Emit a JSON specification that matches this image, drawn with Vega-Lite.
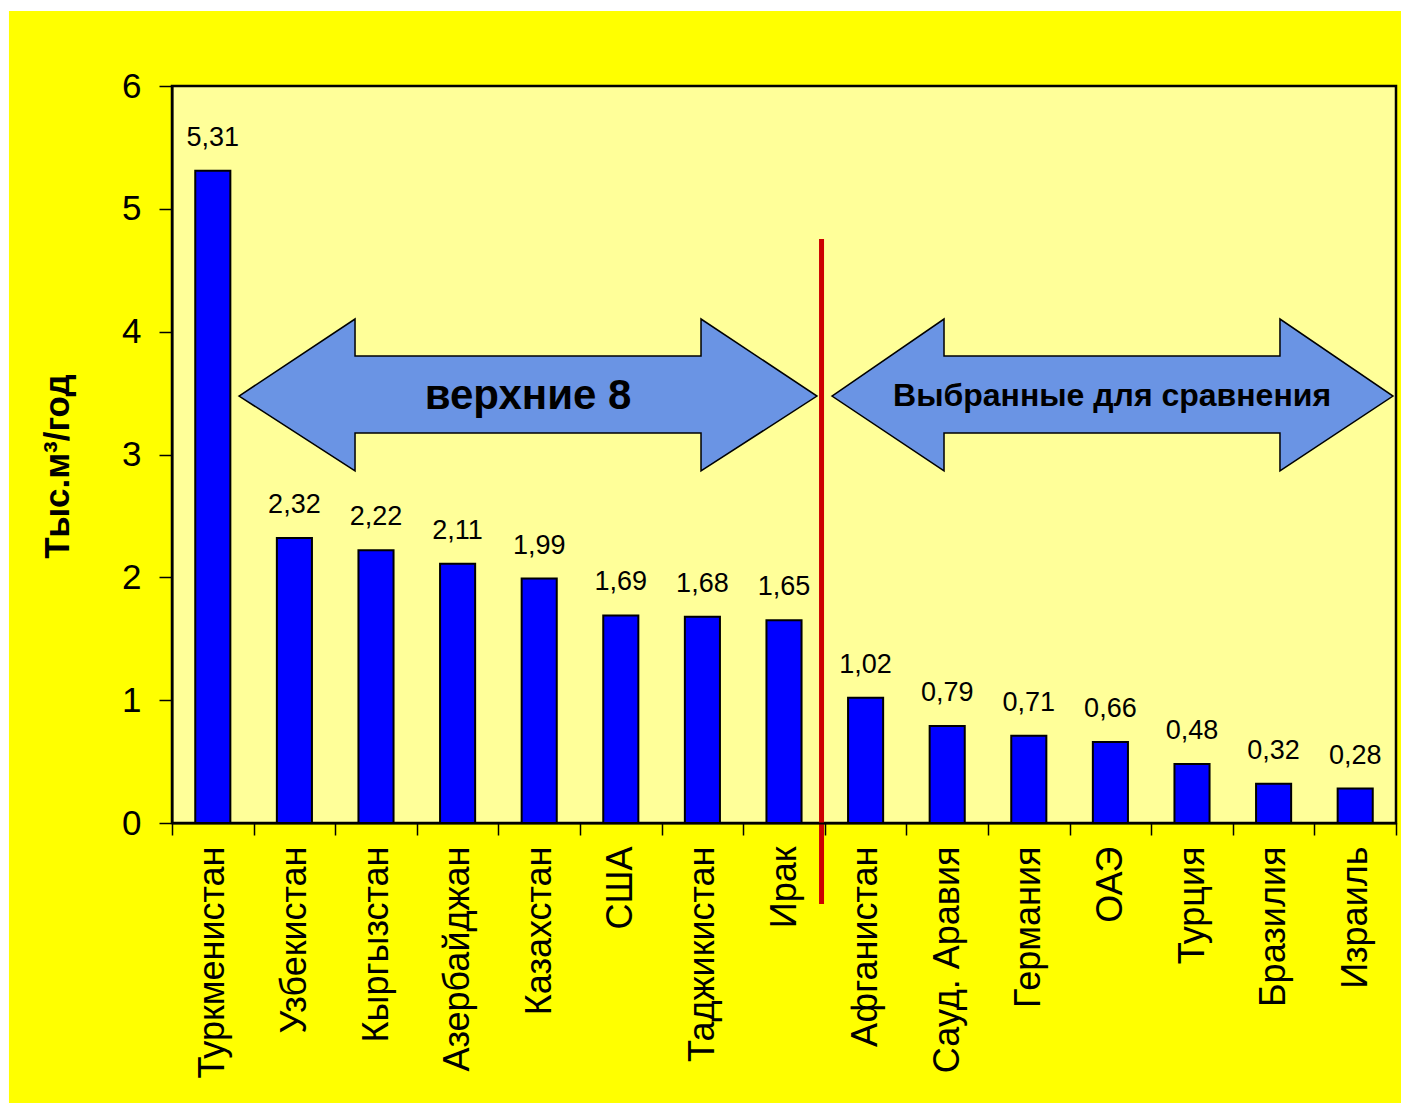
{
  "$schema": "https://vega.github.io/schema/vega-lite/v6.json",
  "width": 1224,
  "height": 737,
  "padding": {"left": 8, "top": 10, "right": 0, "bottom": 0},
  "background": "white",
  "config": {
    "view": {"stroke": null},
    "font": "Liberation Sans"
  },
  "datasets": {
    "bars": [
      {"country": "Туркменистан", "value": 5.31},
      {"country": "Узбекистан", "value": 2.32},
      {"country": "Кыргызстан", "value": 2.22},
      {"country": "Азербайджан", "value": 2.11},
      {"country": "Казахстан", "value": 1.99},
      {"country": "США", "value": 1.69},
      {"country": "Таджикистан", "value": 1.68},
      {"country": "Ирак", "value": 1.65},
      {"country": "Афганистан", "value": 1.02},
      {"country": "Сауд. Аравия", "value": 0.79},
      {"country": "Германия", "value": 0.71},
      {"country": "ОАЭ", "value": 0.66},
      {"country": "Турция", "value": 0.48},
      {"country": "Бразилия", "value": 0.32},
      {"country": "Израиль", "value": 0.28}
    ],
    "frame": [{"x0": -1.998, "x1": 15.074, "y0": -2.288, "y1": 6.611}],
    "plot": [{"x0": 0, "x1": 15, "y0": 0, "y1": 6}],
    "arrows": [
      {"arrow": "a", "x": 0.821, "top": 3.476, "bot": 3.476},
      {"arrow": "a", "x": 2.243, "top": 4.103, "bot": 2.866},
      {"arrow": "a", "x": 2.243, "top": 3.802, "bot": 3.175},
      {"arrow": "a", "x": 6.483, "top": 3.802, "bot": 3.175},
      {"arrow": "a", "x": 6.483, "top": 4.103, "bot": 2.866},
      {"arrow": "a", "x": 7.904, "top": 3.476, "bot": 3.476},
      {"arrow": "b", "x": 8.088, "top": 3.476, "bot": 3.476},
      {"arrow": "b", "x": 9.461, "top": 4.103, "bot": 2.866},
      {"arrow": "b", "x": 9.461, "top": 3.802, "bot": 3.175},
      {"arrow": "b", "x": 13.578, "top": 3.802, "bot": 3.175},
      {"arrow": "b", "x": 13.578, "top": 4.103, "bot": 2.866},
      {"arrow": "b", "x": 14.963, "top": 3.476, "bot": 3.476}
    ],
    "divider": [{"x": 7.96, "y0": 4.755, "y1": -0.66}]
  },
  "resolve": {"scale": {"x": "independent", "y": "independent"}, "axis": {"x": "independent", "y": "independent"}},
  "layer": [
    {
      "data": {"name": "frame"},
      "mark": {"type": "rect", "fill": "#FFFF00", "clip": false},
      "encoding": {
        "x": {"field": "x0", "type": "quantitative", "scale": {"domain": [0, 15], "nice": false, "zero": false}, "axis": null},
        "x2": {"field": "x1"},
        "y": {"field": "y0", "type": "quantitative", "scale": {"domain": [0, 6], "nice": false}, "axis": null},
        "y2": {"field": "y1"}
      }
    },
    {
      "data": {"name": "plot"},
      "mark": {"type": "rect", "fill": "#FFFF99", "stroke": "black", "strokeWidth": 2.5, "clip": false},
      "encoding": {
        "x": {"field": "x0", "type": "quantitative", "scale": {"domain": [0, 15], "nice": false, "zero": false}, "axis": null},
        "x2": {"field": "x1"},
        "y": {"field": "y0", "type": "quantitative", "scale": {"domain": [0, 6], "nice": false}, "axis": null},
        "y2": {"field": "y1"}
      }
    },
    {
      "data": {"name": "bars"},
      "mark": {"type": "bar", "fill": "#0000FF", "stroke": "black", "strokeWidth": 2, "width": {"band": 0.43}},
      "encoding": {
        "x": {
          "field": "country", "type": "nominal", "sort": null,
          "scale": {"paddingInner": 0, "paddingOuter": 0},
          "axis": {
            "title": null, "labelAngle": -90, "labelFontSize": 36, "labelColor": "black",
            "labelPadding": 11, "tickSize": 12, "tickColor": "black", "tickWidth": 1.5,
            "tickBand": "extent", "domainColor": "black", "domainWidth": 2, "labelLimit": 400, "zindex": 2
          }
        },
        "y": {
          "field": "value", "type": "quantitative",
          "scale": {"domain": [0, 6], "nice": false},
          "axis": {
            "title": "Тыс.м³/год", "titleFontSize": 35, "titleFontWeight": "bold", "titleColor": "black",
            "titlePadding": 46, "titleY": 380, "values": [0, 1, 2, 3, 4, 5, 6], "labelFontSize": 35, "labelColor": "black",
            "labelPadding": 18, "tickSize": 13, "tickColor": "black", "tickWidth": 1.5, "grid": false,
            "domainColor": "black", "domainWidth": 2, "zindex": 2
          }
        }
      }
    },
    {
      "data": {"name": "bars"},
      "transform": [{"calculate": "replace(format(datum.value, '.2f'), '.', ',')", "as": "label"}],
      "mark": {"type": "text", "fontSize": 27, "color": "black", "baseline": "middle", "dy": -33},
      "encoding": {
        "x": {"field": "country", "type": "nominal", "sort": null, "scale": {"paddingInner": 0, "paddingOuter": 0}, "axis": null},
        "y": {"field": "value", "type": "quantitative", "scale": {"domain": [0, 6], "nice": false}, "axis": null},
        "text": {"field": "label"}
      }
    },
    {
      "data": {"name": "arrows"},
      "mark": {"type": "area", "fill": "#6A94E4", "stroke": "black", "strokeWidth": 1.5, "clip": false, "interpolate": "linear"},
      "encoding": {
        "x": {"field": "x", "type": "quantitative", "scale": {"domain": [0, 15], "nice": false, "zero": false}, "axis": null},
        "y": {"field": "top", "type": "quantitative", "stack": null, "scale": {"domain": [0, 6], "nice": false}, "axis": null},
        "y2": {"field": "bot"},
        "detail": {"field": "arrow"}
      }
    },
    {
      "data": {"values": [
        {"t": "верхние 8", "x": 4.363, "y": 3.476, "size": "big"},
        {"t": "Выбранные для сравнения", "x": 11.52, "y": 3.476, "size": "small"}
      ]},
      "mark": {"type": "text", "fontWeight": "bold", "color": "black", "baseline": "middle", "align": "center", "clip": false},
      "encoding": {
        "x": {"field": "x", "type": "quantitative", "scale": {"domain": [0, 15], "nice": false, "zero": false}, "axis": null},
        "y": {"field": "y", "type": "quantitative", "scale": {"domain": [0, 6], "nice": false}, "axis": null},
        "text": {"field": "t"},
        "size": {"field": "size", "type": "nominal", "scale": {"domain": ["big", "small"], "range": [42, 32]}, "legend": null}
      }
    },
    {
      "data": {"name": "divider"},
      "mark": {"type": "rule", "color": "#CC0000", "strokeWidth": 5, "clip": false},
      "encoding": {
        "x": {"field": "x", "type": "quantitative", "scale": {"domain": [0, 15], "nice": false, "zero": false}, "axis": null},
        "y": {"field": "y0", "type": "quantitative", "scale": {"domain": [0, 6], "nice": false}, "axis": null},
        "y2": {"field": "y1"}
      }
    }
  ]
}
